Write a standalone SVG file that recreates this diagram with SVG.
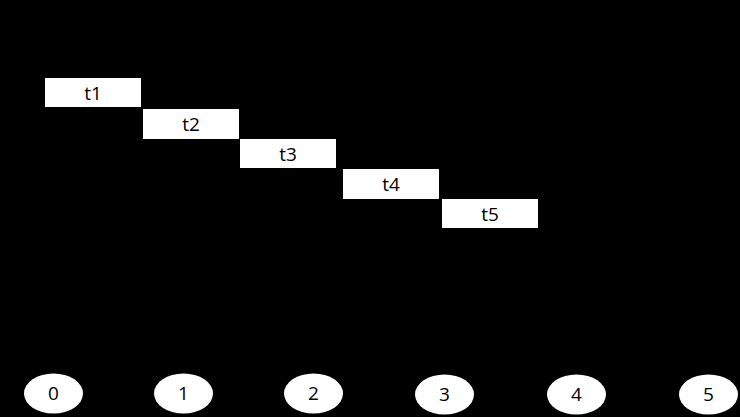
<svg xmlns="http://www.w3.org/2000/svg" width="740" height="417" viewBox="0 0 740 417">
<style>
.box{fill:#fff;stroke:none}
.lbl{font-family:"Open Sans","Noto Sans",sans-serif;font-size:19px;fill:#000;text-anchor:middle;dominant-baseline:central}
</style>
<rect x="0" y="0" width="740" height="417" fill="#000"/>
<g id="t1"><rect class="box" x="45" y="78" width="96" height="29"/><text class="lbl" x="93" y="92.5">t1</text></g>
<g id="t2"><rect class="box" x="143" y="109" width="96" height="30"/><text class="lbl" x="191" y="124">t2</text></g>
<g id="t3"><rect class="box" x="240" y="139" width="96" height="29"/><text class="lbl" x="288" y="153.5">t3</text></g>
<g id="t4"><rect class="box" x="343" y="169" width="96" height="30"/><text class="lbl" x="391" y="184">t4</text></g>
<g id="t5"><rect class="box" x="442" y="199" width="96" height="29"/><text class="lbl" x="490" y="213.5">t5</text></g>
<g id="n0"><ellipse class="box" cx="53.5" cy="393.5" rx="29.5" ry="20"/><text class="lbl" x="53.5" y="393">0</text></g>
<g id="n1"><ellipse class="box" cx="183.5" cy="393.5" rx="29.5" ry="20"/><text class="lbl" x="183.5" y="393">1</text></g>
<g id="n2"><ellipse class="box" cx="313.5" cy="393.5" rx="29.5" ry="20"/><text class="lbl" x="313.5" y="393">2</text></g>
<g id="n3"><ellipse class="box" cx="444.5" cy="394.5" rx="29.5" ry="20"/><text class="lbl" x="444.5" y="394">3</text></g>
<g id="n4"><ellipse class="box" cx="576.5" cy="394.5" rx="29.5" ry="20"/><text class="lbl" x="576.5" y="394">4</text></g>
<g id="n5"><ellipse class="box" cx="708.5" cy="394.5" rx="29.5" ry="20"/><text class="lbl" x="708.5" y="394">5</text></g>
<g id="connectors"></g>
</svg>
